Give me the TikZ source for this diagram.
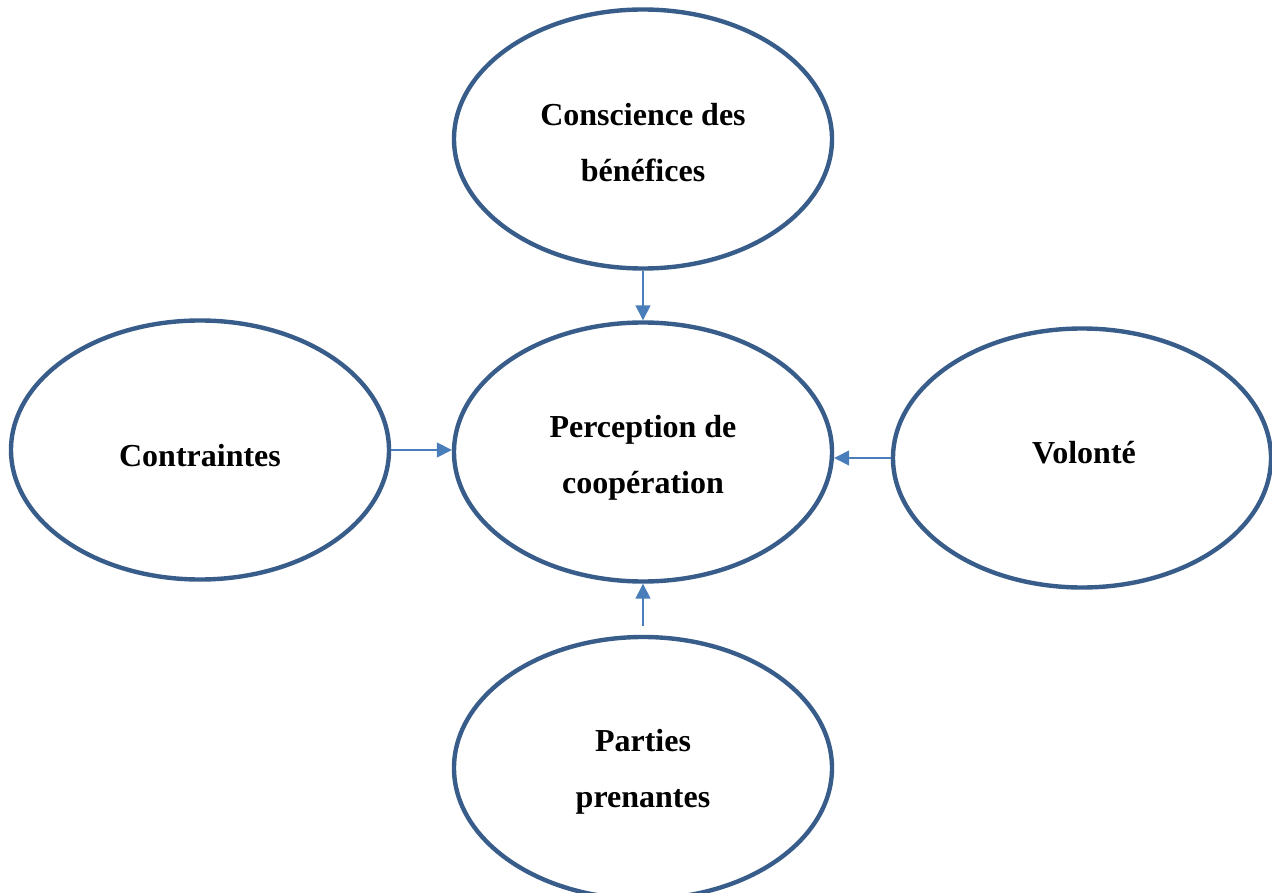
\documentclass[tikz,border=0pt]{standalone}
\usepackage{fontspec}
\setmainfont{Liberation Serif}
\usepackage{xcolor}
\usetikzlibrary{shapes.geometric,arrows.meta}
\definecolor{ovalblue}{HTML}{385D8A}
\definecolor{arrowblue}{HTML}{4A7EBB}

\begin{document}
\begin{tikzpicture}[x=1pt,y=1pt]
\tikzset{
  oval/.style={ellipse,draw=ovalblue,line width=4.4pt,inner sep=0pt,
    minimum width=378pt,minimum height=259pt},
  ovaltext/.style={inner sep=0pt,align=center,
    font=\fontsize{32}{56}\selectfont\bfseries},
  link/.style={draw=arrowblue,line width=1.5pt,
    -{Triangle[length=15pt,width=15pt]}}
}
\useasboundingbox (0,0) rectangle (1272,-893);
\node [oval] (benefices) at (643,-139) {};
\node [ovaltext] (beneficestext) at (643,-143) {Conscience des\\bénéfices};
\node [oval] (perception) at (643,-452) {};
\node [ovaltext] (perceptiontext) at (643,-458) {Perception de\\coopération};
\node [oval] (contraintes) at (200,-450) {};
\node [ovaltext] (contraintestext) at (200,-456) {Contraintes};
\node [oval] (volonte) at (1082,-458) {};
\node [ovaltext] (volontetext) at (1084,-453) {Volonté};
\node [oval,minimum height=262pt] (parties) at (643,-768) {};
\node [ovaltext] (partiestext) at (643,-772) {Parties\\prenantes};
\draw [link] (benefices.south) -- (perception.north);
\draw [link] (contraintes.east) -- (perception.west |- contraintes.east);
\draw [link] (volonte.west) -- (perception.east |- volonte.west);
\draw [link,shorten <=9pt] (parties.north) -- (perception.south);
\end{tikzpicture}
\end{document}
